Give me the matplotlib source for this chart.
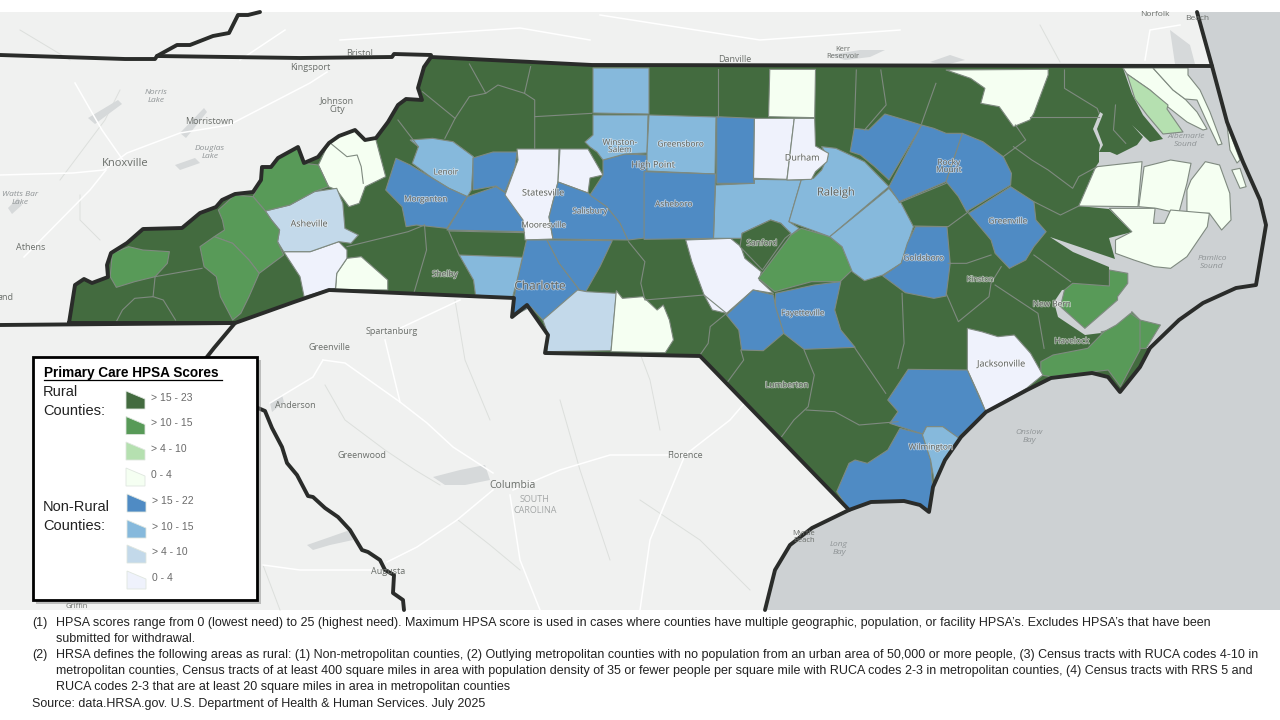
import matplotlib
matplotlib.use("Agg")
import matplotlib.pyplot as plt
import matplotlib.patheffects as pe
from matplotlib.patches import Polygon, Rectangle

plt.rcParams['font.family'] = ['Liberation Sans', 'DejaVu Sans']

LAND = "#f0f1f0"
OCEAN = "#cdd1d3"
EDGE = "#7f8a80"
THICK = "#2a2c2a"

# score classes as shown in the legend
CLASS_LABELS = ["> 15 - 23", "> 10 - 15", "> 4 - 10", "0 - 4", "> 15 - 22", "> 10 - 15", "> 4 - 10", "0 - 4"]
CLASS_COLORS = ["#436b3f", "#589a58", "#b5e0b0", "#f5fff2", "#4f8bc4", "#86b9dc", "#c3d9ea", "#eff2fc"]
R_HI, R_MID, R_LOW, R_MIN, N_HI, N_MID, N_LOW, N_MIN = range(8)


# outlines below were traced on three crops of the map, these put them back on the page
def west(pts):
    return [(x / 2.45, 50 + y / 3) for x, y in pts]

def east(pts):
    return [(640 + x / 2.45, 50 + y / 3) for x, y in pts]

def south(pts):
    return [(500 + x / 2.45, 230 + y / 3) for x, y in pts]


STATE_WEST = [(69,323),(75,285),(84,279),(92,283),(108,277),(107,265),(111,253),(127,243),(143,229),(182,228),(200,213),
    (216,207),(222,200),(235,194),(253,192),(261,180),(262,167),(271,167),(278,158),(298,147),(304,163),(318,157),
    (329,143),(339,136),(355,130),(365,140),(376,138),(388,122),(398,105),(406,99),(422,100),(418,88),(424,67),(431,57)]
STATE_NORTH = [(592,65),(1212,66)]
STATE_EAST = [(1227,122),(1243,162),(1260,200),(1266,225),(1256,285),(1236,288),(1203,303),(1179,320),(1150,348),
    (1140,367),(1120,392),(1108,377),(1092,373),(1051,378),(1027,390),(986,412),(961,437),(945,460),(933,487),
    (929,512),(920,505),(904,501),(871,502),(849,510)]
STATE_SOUTH = [(700,356),(545,353),(548,335),(527,305),(512,317),(514,298),(329,290),(294,302),(235,323)]
STATE = STATE_WEST + STATE_NORTH + STATE_EAST + STATE_SOUTH

COAST_SOUTH = [(849,510),(812,528),(790,545),(775,570),(765,610)]
BORDER_NORTH_TN = [(0,55),(125,59),(155,59),(157,56),(300,58),(392,57),(394,54),(431,55)]
BORDER_VA_SPUR = [(157,56),(177,45),(190,45),(213,36),(229,33),(238,15),(248,15),(260,12)]
BORDER_VA_COAST = [(1197,12),(1212,66)]
BORDER_GA = [(0,325),(235,323),(214,348),(203,362)]
BORDER_SC_GA = [(258,408),(265,411),(272,428),(282,447),(287,463),(297,475),(308,496),(313,497),(325,508),(338,517),
    (350,530),(362,550),(368,552),(380,560),(385,570),(394,575),(393,593),(403,600),(404,610)]

SOUND = [(1123,68),(1212,66),(1227,122),(1243,162),(1260,200),(1266,225),(1256,285),(1236,288),(1203,303),(1179,320),(1150,348),
    (1103,348),(1101,333),(1085,335),(1058,317),(1054,302),(1062,290),(1109,286),(1109,267),(1073,252),(1050,237),(1115,259),
    (1109,238),(1132,232),(1109,209),(1079,206),(1095,168),(1099,162),(1099,152),(1110,152),(1117,155),(1137,145),(1143,137),
    (1132,125),(1150,142),(1163,139),(1143,115),(1132,94)]
INLET = [(1100,112),(1093,129),(1100,145),(1099,152),(1103,145),(1097,129),(1103,114)]

# lakes on the base map
LAKES = [
    [(433,477),(460,470),(485,465),(490,480),(465,485),(445,485)],
    [(307,545),(330,537),(350,530),(353,540),(330,545),(313,550)],
    [(180,133),(204,108),(207,112),(186,138)], [(175,165),(195,158),(200,163),(180,170)],
    [(88,118),(118,100),(122,104),(95,124)], [(8,208),(18,198),(22,205),(12,214)],
    [(830,55),(860,50),(885,50),(870,57),(845,60)], [(930,62),(950,55),(965,60),(945,65)],
    [(270,403),(282,395),(284,402),(272,412)], [(1170,30),(1190,45),(1195,64),(1175,64)],
]

COUNTIES = [
    # west
    (R_MIN, west([(780,345),(805,280),(830,258),(870,240),(895,270),(920,265),(945,380),(895,410),(880,460),(855,470),(825,420),(805,410)])),
    (R_MIN, west([(850,625),(885,620),(950,690),(950,720),(822,718),(825,670)])),
    (N_MIN, west([(695,605),(760,605),(830,575),(850,600),(850,625),(825,670),(822,715),(800,720),(745,740),(735,680)])),
    (N_LOW, west([(650,483),(710,465),(770,425),(825,415),(840,460),(845,535),(878,555),(860,580),(830,575),(760,605),(695,605),(680,575),(685,540),(665,510)])),
    (R_MID, west([(620,440),(640,390),(642,350),(665,352),(680,325),(730,292),(745,340),(780,345),(805,410),(770,425),(710,465),(650,483)])),
    (R_MID, west([(535,480),(575,435),(620,440),(650,483),(665,510),(685,540),(680,575),(695,615),(635,670),(610,630),(570,580),(525,560),(550,540),(545,510)])),
    (R_MID, west([(490,590),(525,560),(570,580),(610,630),(635,670),(610,740),(590,790),(570,810),(540,740),(530,680),(500,650)])),
    (R_MID, west([(275,610),(315,590),(350,600),(415,605),(410,640),(380,680),(330,695),(285,712),(270,680)])),
    # foothills and piedmont
    (N_MID, west([(1005,270),(1060,265),(1110,275),(1160,320),(1155,420),(1145,440),(1100,415),(1060,385),(1010,340),(1025,290)])),
    (N_HI, west([(970,325),(1005,345),(1060,385),(1100,415),(1145,440),(1095,535),(1020,525),(995,530),(985,470),(945,420)])),
    (N_HI, west([(1145,440),(1215,410),(1240,430),(1285,510),(1290,545),(1095,540)])),
    (N_HI, [(473,158),(493,152),(517,152),(515,167),(505,192),(496,186),(473,190)]),
    (N_MIN, [(517,149),(559,149),(558,182),(549,217),(553,239),(525,240),(523,220),(505,195),(518,160)]),
    (N_MIN, [(560,149),(588,149),(603,175),(590,178),(588,193),(558,182)]),
    (N_HI, [(558,182),(588,193),(607,207),(620,223),(628,240),(553,239),(549,217)]),
    (N_HI, [(625,154),(647,155),(645,238),(628,240),(620,223),(607,207),(590,195),(603,175),(603,160)]),
    (N_MID, [(593,68),(649,68),(649,114),(593,113)]),
    (N_MID, [(593,115),(648,115),(647,153),(625,154),(603,160),(597,152),(590,147),(585,142),(593,135)]),
    (N_HI, west([(1290,570),(1340,570),(1370,640),(1420,720),(1380,770),(1330,810),(1300,770),(1255,800),(1260,745),(1265,700),(1275,650)])),
    (N_HI, west([(1340,570),(1500,572),(1470,650),(1435,725),(1420,720),(1370,640)])),
    (N_MID, west([(1125,615),(1280,622),(1265,700),(1255,745),(1165,735),(1160,690)])),
    (N_LOW, south([(105,270),(190,180),(212,185),(285,190),(272,362),(115,365),(118,315)])),
    (R_MIN, south([(285,182),(300,205),(350,200),(385,240),(400,225),(415,270),(425,330),(405,368),(272,365)])),
    (N_MIN, south([(455,30),(565,25),(590,50),(600,85),(640,125),(635,150),(670,190),(620,180),(555,250),(520,240),(500,195),(470,95)])),
    (N_MID, east([(185,405),(280,400),(280,388),(395,390),(365,515),(390,535),(370,555),(345,520),(320,510),(250,550),(250,565),(180,565)])),
    (R_HI, east([(250,550),(320,510),(345,520),(370,550),(355,565),(300,660),(245,590)])),
    (R_MID, east([(395,535),(465,560),(495,590),(520,660),(490,695),(420,695),(330,725),(290,685),(370,555)])),
    (N_MID, east([(445,290),(480,295),(550,335),(610,410),(465,560),(365,515),(395,390),(425,385),(445,360),(460,320)])),
    (N_MID, east([(610,415),(640,460),(670,530),(640,640),(595,675),(550,692),(520,665),(495,590),(465,560)])),
    (N_HI, east([(675,530),(752,530),(760,640),(750,738),(720,745),(650,728),(595,678),(640,640),(655,580)])),
    (N_HI, east([(515,305),(525,235),(560,240),(600,192),(650,210),(690,225),(610,390),(575,350),(540,315)])),
    (N_HI, east([(690,225),(720,235),(750,250),(790,250),(750,395),(635,455),(610,410)])),
    (N_HI, east([(790,250),(840,275),(890,320),(910,370),(908,405),(800,485),(780,440),(750,395)])),
    (N_HI, east([(805,490),(908,410),(965,455),(970,510),(995,545),(965,590),(945,630),(905,655),(870,610),(860,570)])),
    (N_MID, [(649,115),(716,117),(715,174),(647,171),(647,153)]),
    (N_HI, east([(10,365),(185,372),(180,565),(10,568)])),
    (R_MIN, east([(318,58),(430,58),(428,203),(315,200)])),
    (N_MIN, east([(280,205),(378,205),(360,388),(278,385)])),
    (N_MIN, east([(378,205),(428,205),(430,288),(462,310),(458,335),(430,365),(420,388),(360,390)])),
    (N_HI, east([(188,200),(280,205),(278,385),(280,400),(188,400)])),
    (R_MIN, east([(750,60),(1000,58),(1000,75),(965,190),(955,210),(915,230),(880,170),(835,160),(845,115),(810,85)])),
    # northeast and sounds
    (R_MIN, [(1123,68),(1153,68),(1173,90),(1185,99),(1197,112),(1207,129),(1203,130),(1187,122),(1168,107),(1150,90),(1127,74)]),
    (R_LOW, [(1127,74),(1150,90),(1168,105),(1167,109),(1183,132),(1163,134),(1147,115),(1135,99)]),
    (R_MIN, [(1153,68),(1188,68),(1188,75),(1200,90),(1210,112),(1222,144),(1218,145),(1207,122),(1197,100),(1185,99),(1173,90)]),
    (R_MIN, [(1227,125),(1240,160),(1237,163),(1230,150)]),
    (R_MIN, east([(1120,350),(1230,335),(1220,470),(1075,468),(1115,355)])),
    (R_MIN, east([(1235,350),(1300,330),(1350,340),(1340,400),(1320,490),(1265,475),(1222,470)])),
    (R_MIN, east([(1350,390),(1385,335),(1420,345),(1445,430),(1448,510),(1425,540),(1395,490),(1340,490),(1340,420)])),
    (R_MIN, east([(1150,475),(1262,475),(1258,520),(1285,520),(1300,480),(1395,490),(1390,530),(1340,620),(1300,655),(1260,650),(1210,630),(1165,610),(1165,570),(1205,545)])),
    (R_MIN, east([(1450,360),(1470,355),(1485,410),(1470,415)])),
    (R_MID, east([(1150,660),(1195,670),(1195,700),(1170,740),(1170,750),(1090,835),(1030,770),(1040,720),(1060,700),(1150,708)])),
    (R_MID, east([(1130,845),(1190,835),(1205,785),(1225,810),(1275,825),(1240,895),(1130,895)])),
    (R_MID, south([(1325,395),(1355,375),(1440,355),(1480,305),(1510,285),(1545,250),(1568,270),(1568,360),(1520,470),(1490,420),(1350,440),(1325,435)])),
    # southeast
    (N_MIN, south([(1145,295),(1180,305),(1220,320),(1260,315),(1300,370),(1330,435),(1290,475),(1190,545),(1175,500),(1145,420)])),
    (N_HI, south([(1000,418),(1145,420),(1190,545),(1120,625),(1085,590),(1045,590),(1035,612),(955,580),(975,545),(950,510)])),
    (N_HI, south([(980,595),(1035,612),(1055,690),(1060,770),(1050,845),(1030,825),(990,812),(910,815),(855,840),(825,785),(855,700),(870,690),(900,700),(950,660)])),
    (N_MID, south([(1035,615),(1045,590),(1085,590),(1125,625),(1090,690),(1065,760),(1055,690)])),
    (N_HI, south([(675,190),(770,165),(835,155),(820,240),(835,300),(870,352),(745,358),(695,310),(675,230)])),
    (N_HI, south([(555,255),(620,180),(670,195),(675,230),(695,310),(645,362),(592,360),(585,300)])),
]

# county lines inside the dark green areas
INNER_LINES = [
    west([(380,680),(375,740),(330,745),(300,780),(285,815)]), west([(375,740),(400,750),(430,810)]), west([(380,680),(495,655)]),
    west([(810,280),(850,320),(875,315),(885,350),(890,400)]),
    west([(1040,525),(1045,600),(1015,725)]), west([(1100,545),(1125,615)]), west([(850,590),(1000,545),(1040,525)]),
    west([(1100,543),(1285,548)]), west([(1150,42),(1190,130),(1150,140),(1115,205),(1090,265)]),
    west([(1190,130),(1220,105),(1285,130),(1310,150),(1310,295)]), west([(1300,50),(1285,130)]),
    west([(1310,200),(1450,190)]), west([(1035,125),(1115,205)]), west([(975,210),(1025,290)]),
    east([(190,58),(190,200)]), east([(530,60),(525,235)]), east([(590,60),(603,165),(550,240)]), east([(725,100),(690,220)]),
    east([(920,225),(945,270),(890,320)]), east([(955,200),(1125,200)]), east([(1040,60),(1040,115),(1120,175),(1125,190)]),
    east([(915,290),(960,330),(1000,360),(1060,415),(1075,380),(1120,350)]), east([(965,455),(1030,495),(1075,468)]),
    east([(1165,165),(1160,240),(1190,280)]), east([(635,458),(750,400)]), east([(805,485),(755,530),(672,528)]),
    east([(750,730),(780,815),(855,740),(860,700),(885,650)]), east([(755,640),(800,640),(860,615)]), east([(965,615),(1055,695)]),
    east([(870,705),(975,790),(990,895)]),
    south([(985,190),(990,340),(975,415)]), south([(870,355),(945,490)]), south([(745,360),(770,435),(755,530),(720,570),(690,620)]),
    south([(555,460),(597,390),(590,360)]), south([(750,540),(820,545),(880,585),(975,575)]),
    south([(315,35),(355,95),(345,160),(355,210),(500,195),(555,250),(515,290),(510,340),(490,375)]),
]

# background roads and rivers
ROADS = [
    [(0,175),(73,173),(104,170),(127,153),(180,133),(229,125),(310,83),(327,72)],
    [(75,83),(102,130),(125,163)], [(24,257),(90,190),(106,170)],
    [(323,360),(313,377),(270,403)], [(323,360),(345,363),(400,402),(427,423),(453,447),(493,473)],
    [(385,340),(400,402)], [(493,490),(457,520),(417,547),(387,562)], [(263,565),(300,570),(373,570)],
    [(513,490),(560,470),(610,455),(685,455),(730,420),(760,385)], [(685,455),(650,540),(640,610)],
    [(510,495),(520,560),(540,610)], [(392,332),(460,300)], [(1145,60),(1150,30),(1180,25)],
    [(600,15),(760,40),(900,30)], [(285,30),(240,60)], [(340,40),(520,28),(590,40)],
]
RIVERS = [
    [(120,90),(105,120),(60,180)], [(80,195),(80,220),(100,240)], [(325,385),(345,420),(385,450),(415,470),(440,485)],
    [(620,300),(650,380),(660,430)], [(560,400),(580,470),(610,560)], [(150,430),(120,480),(110,560)],
    [(640,500),(700,540),(750,590)], [(263,565),(280,610)], [(455,300),(465,360),(490,420)],
    [(458,520),(490,545),(520,570)], [(20,30),(70,60)], [(1040,25),(1060,62)],
]

MAP_LABELS = ["Norfolk", "Beach", "Bristol", "Kingsport", "Johnson\nCity", "Danville", "Kerr\nReservoir", "Morristown", "Knoxville",
    "Athens", "and", "Spartanburg", "Greenville", "Anderson", "Greenwood", "Columbia", "Florence", "Augusta", "Myrtle\nBeach", "Griffin"]
MAP_LABEL_XY = [(1155,15), (1197,19), (360,54), (310,67), (337,105), (735,59), (843,53), (209,121), (125,163),
    (31,248), (6,297), (392,332), (329,347), (295,405), (362,456), (513,485), (685,455), (388,572), (804,537), (77,607)]
MAP_LABEL_SIZE = [6, 6, 6.5, 6.5, 6.5, 6.5, 5.5, 6.5, 8, 6.5, 6.5, 6.5, 6.5, 6.5, 6.5, 7.5, 6.5, 6.5, 5.5, 5.5]

WATER_LABELS = ["Norris\nLake", "Douglas\nLake", "Watts Bar\nLake", "Albemarle\nSound", "Pamlico\nSound", "Onslow\nBay", "Long\nBay"]
WATER_XY = [(156,97), (210,152), (20,198), (1186,141), (1212,262), (1029,437), (839,549)]

CITY_LABELS = ["Lenoir", "Morganton", "Statesville", "Mooresville", "Salisbury", "Winston-\nSalem", "Greensboro", "High Point",
    "Asheboro", "Durham", "Asheville", "Shelby", "Charlotte", "Raleigh", "Rocky\nMount", "Greenville", "Sanford", "Goldsboro",
    "Kinston", "New Bern", "Havelock", "Fayetteville", "Lumberton", "Jacksonville", "Wilmington"]
CITY_XY = [(446,173), (426,200), (543,193), (544,226), (590,212), (620,147), (681,145), (653,165),
    (674,205), (802,158), (309,224), (445,275), (540,286), (836,193), (949,167), (1008,222), (762,244), (924,259),
    (980,280), (1052,305), (1072,342), (803,314), (787,386), (1001,364), (931,448)]
CITY_SIZE = [6, 6, 6.5, 6, 6, 6, 6, 6.5, 6, 6.5, 6.5, 6, 8.5, 8, 6, 6, 6, 6, 5.5, 6, 6, 6, 6, 6.5, 6]

LEGEND_TITLE = "Primary Care HPSA Scores"
NOTES = [
    "(1)", "HPSA scores range from 0 (lowest need) to 25 (highest need). Maximum HPSA score is used in cases where counties have multiple geographic, population, or facility HPSA\u2019s. Excludes HPSA\u2019s that have been",
    "", "submitted for withdrawal.",
    "(2)", "HRSA defines the following areas as rural: (1) Non-metropolitan counties, (2) Outlying metropolitan counties with no population from an urban area of 50,000 or more people, (3) Census tracts with RUCA codes 4-10 in",
    "", "metropolitan counties, Census tracts of at least 400 square miles in area with population density of 35 or fewer people per square mile with RUCA codes 2-3 in metropolitan counties, (4) Census tracts with RRS 5 and",
    "", "RUCA codes 2-3 that are at least 20 square miles in area in metropolitan counties",
]
SOURCE = "Source: data.HRSA.gov. U.S. Department of Health & Human Services. July 2025"

fig = plt.figure(figsize=(12.8, 7.2), dpi=100)
ax = fig.add_axes([0, 0, 1, 1])
ax.set_xlim(0, 1280)
ax.set_ylim(720, 0)
ax.axis("off")

# base map
ax.add_patch(Rectangle((0, 12), 1280, 598, fc=LAND, ec="none", zorder=1))
ocean = BORDER_VA_COAST + STATE_EAST + COAST_SOUTH[1:] + [(1280,610),(1280,12)]
ax.add_patch(Polygon(ocean, fc=OCEAN, ec="none", zorder=2))
for line in RIVERS:
    ax.plot(*zip(*line), color="#dcdfdc", lw=0.7, zorder=2)
for shape in LAKES:
    ax.add_patch(Polygon(shape, fc="#d6d9da", ec="none", zorder=2))
for line in ROADS:
    ax.plot(*zip(*line), color="#ffffff", lw=1.1, zorder=2)

ax.add_patch(Polygon(STATE, fc=CLASS_COLORS[R_HI], ec="none", zorder=3))
ax.add_patch(Polygon(SOUND, fc=OCEAN, ec="none", zorder=3.5))
ax.add_patch(Polygon(INLET, fc=OCEAN, ec="none", zorder=3.5))
for score_class, shape in COUNTIES:
    ax.add_patch(Polygon(shape, fc=CLASS_COLORS[score_class], ec=EDGE, lw=0.8, joinstyle="round", zorder=4))
for line in INNER_LINES:
    ax.plot(*zip(*line), color=EDGE, lw=0.8, zorder=4.5)

# state outline on top
for line in [STATE + STATE[:1], COAST_SOUTH, BORDER_NORTH_TN, BORDER_VA_SPUR, BORDER_VA_COAST, BORDER_GA, BORDER_SC_GA]:
    ax.plot(*zip(*line), color=THICK, lw=2.8, solid_joinstyle="round", solid_capstyle="round", zorder=5)

# labels
for name, (x, y), size in zip(MAP_LABELS, MAP_LABEL_XY, MAP_LABEL_SIZE):
    ax.text(x, y, name, fontsize=size, color="#6a6e6a", ha="center", va="center", linespacing=1.1, family="Open Sans", zorder=6)
for name, (x, y) in zip(WATER_LABELS, WATER_XY):
    ax.text(x, y, name, fontsize=6, color="#8f9496", style="italic", ha="center", va="center", family="Open Sans", zorder=6)
ax.text(535, 505, "SOUTH\nCAROLINA", fontsize=6.5, color="#a3a6a6", ha="center", va="center", family="Open Sans", zorder=6)
halo = [pe.withStroke(linewidth=1.1, foreground="#ffffff", alpha=0.55)]
for name, (x, y), size in zip(CITY_LABELS, CITY_XY, CITY_SIZE):
    ax.text(x, y, name, fontsize=size, color="#5f635f", ha="center", va="center", linespacing=1.05,
            family="Open Sans", path_effects=halo, zorder=6)

# legend
ax.add_patch(Rectangle((36, 360), 225, 244, fc="#8a8a8a", ec="none", alpha=0.5, zorder=7))
ax.add_patch(Rectangle((33, 357), 224, 243, fc="white", ec="black", lw=2.0, zorder=8))
ax.text(44, 373, LEGEND_TITLE, fontsize=9.8, weight="bold", color="black", ha="left", va="center", zorder=9)
ax.plot([44, 222], [380, 380], color="black", lw=0.9, zorder=9)
for y, word in zip([392, 411, 507, 526], ["Rural", "Counties:", "Non-Rural", "Counties:"]):
    ax.text(43, y, word, fontsize=10.5, color="#222222", ha="left", va="center", zorder=9)
legend_y = [391, 416.5, 442, 468, 494, 520, 545, 571]
for i, y in enumerate(legend_y):
    x = 126 + (1 if i >= 4 else 0)
    swatch = [(x, y), (x + 19, y + 8), (x + 19, y + 18), (x, y + 18)]
    ax.add_patch(Polygon(swatch, fc=CLASS_COLORS[i], ec="#dfe6df", lw=0.6, zorder=9))
    ax.text(x + 25, y + 7, CLASS_LABELS[i], fontsize=7.5, color="#6a6a6a", ha="left", va="center", zorder=9)

# footnotes
note_y = [623, 639, 655, 671, 687]
for row, y in enumerate(note_y):
    ax.text(32, y, NOTES[row * 2], fontsize=9, color="#222222", ha="left", va="center", zorder=9)
    ax.text(56, y, NOTES[row * 2 + 1], fontsize=9, color="#222222", ha="left", va="center", zorder=9)
ax.text(32, 704, SOURCE, fontsize=9, color="#222222", ha="left", va="center", zorder=9)

fig.savefig("out.png", dpi=100)
